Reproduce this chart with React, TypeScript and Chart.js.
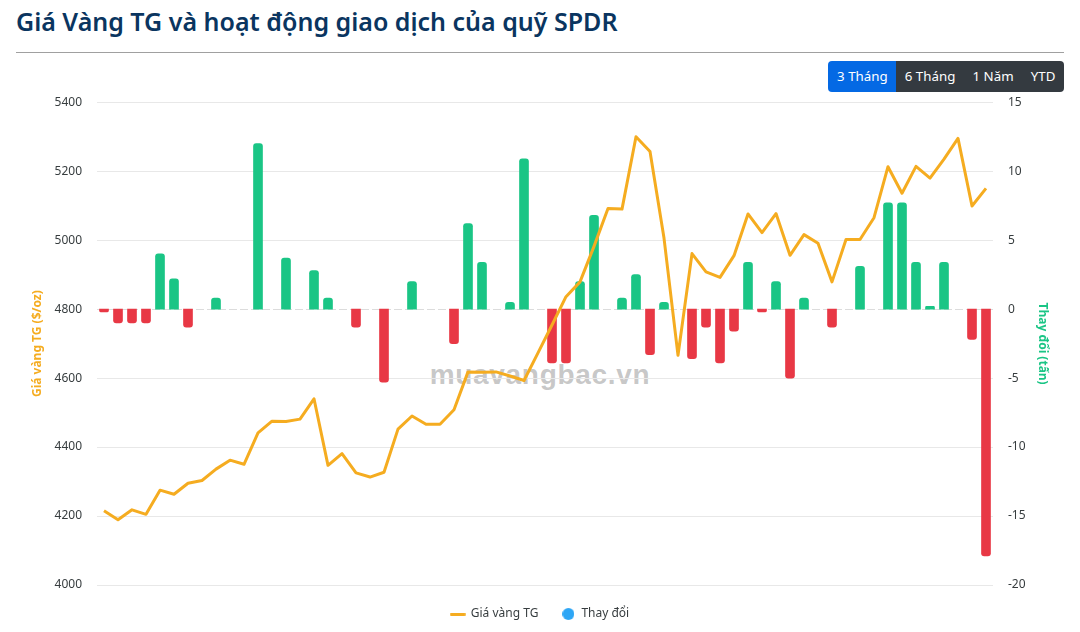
import React, { useEffect, useRef } from "react";
import { Chart, registerables } from "chart.js";

Chart.register(...registerables);

const FONT = '"Noto Sans", "Open Sans", sans-serif';

const goldPrice = [
  4215, 4189, 4218, 4205, 4275, 4263, 4295, 4303, 4336, 4362, 4350, 4441, 4475, 4474, 4481, 4540,
  4347, 4381, 4325, 4313, 4327, 4452, 4490, 4466, 4466, 4508, 4618, 4617, 4618, 4606, 4593, 4673,
  4754, 4836, 4879, 4982, 5092, 5090, 5300, 5257, 5006, 4666, 4961, 4908, 4892, 4955, 5076, 5022,
  5077, 4956, 5016, 4991, 4879, 5002, 5002, 5065, 5213, 5136, 5214, 5180, 5235, 5295, 5099, 5150,
];

const spdrChange = [
  -0.2, -1.0, -1.0, -1.0, 4.0, 2.2, -1.3, 0, 0.8, 0, 0, 12.0, 0, 3.7, 0, 2.8,
  0.8, 0, -1.3, 0, -5.3, 0, 2.0, 0, 0, -2.5, 6.2, 3.4, 0, 0.5, 10.9, 0,
  -3.9, -3.9, 2.0, 6.8, 0, 0.8, 2.5, -3.3, 0.5, 0, -3.6, -1.3, -3.9, -1.6, 3.4, -0.2,
  2.0, -5.0, 0.8, 0, -1.3, 0, 3.1, 0, 7.7, 7.7, 3.4, 0.2, 3.4, 0, -2.2, -17.9,
];

const sessions = goldPrice.map((_, i) => String(i + 1));
const rangeButtons = ["3 Tháng", "6 Tháng", "1 Năm", "YTD"];

const GOLD = "#f5ac20";
const GREEN = "#1ac585";
const RED = "#e83845";
const BLUE = "#2ea6f5";
const GRID = "#e8e8e8";
const TICK = "#373d3f";

function marker(w: number, h: number, draw: (c: CanvasRenderingContext2D) => void) {
  const m = document.createElement("canvas");
  m.width = w;
  m.height = h;
  draw(m.getContext("2d") as CanvasRenderingContext2D);
  return m;
}

const zeroLine = {
  id: "zeroLine",
  beforeDatasetsDraw(chart: any) {
    const { ctx, chartArea, scales } = chart;
    const y = Math.round(scales.yChange.getPixelForValue(0)) + 0.5;
    ctx.save();
    ctx.strokeStyle = "#dcdcdc";
    ctx.lineWidth = 1;
    ctx.setLineDash([8, 3]);
    ctx.beginPath();
    ctx.moveTo(chartArea.left, y);
    ctx.lineTo(chartArea.right, y);
    ctx.stroke();
    ctx.restore();
  },
};

export default function App() {
  const ref = useRef<HTMLCanvasElement>(null);

  useEffect(() => {
    const lineMark = marker(16, 3, (c) => {
      c.fillStyle = GOLD;
      c.beginPath();
      c.roundRect(0, 0, 16, 3, 1.5);
      c.fill();
    });
    const dotMark = marker(12, 12, (c) => {
      c.fillStyle = BLUE;
      c.beginPath();
      c.arc(6, 6, 6, 0, Math.PI * 2);
      c.fill();
    });
    const chart = new Chart(ref.current as HTMLCanvasElement, {
      type: "bar",
      plugins: [zeroLine],
      data: {
        labels: sessions,
        datasets: [
          {
            type: "line",
            label: "Giá vàng TG",
            data: goldPrice,
            yAxisID: "yPrice",
            borderColor: GOLD,
            backgroundColor: GOLD,
            borderWidth: 3,
            pointRadius: 0,
            tension: 0,
            order: 0,
            borderJoinStyle: "round",
          },
          {
            type: "bar",
            label: "Thay đổi",
            data: spdrChange.map((v) => (v === 0 ? null : v)),
            yAxisID: "yChange",
            barThickness: 9,
            borderRadius: 3,
            backgroundColor: spdrChange.map((v) => (v >= 0 ? GREEN : RED)),
            order: 1,
          },
        ],
      } as any,
      options: {
        animation: false,
        responsive: false,
        layout: { padding: { top: 10, bottom: 0, left: 0, right: 0 } },
        plugins: {
          tooltip: { enabled: false },
          legend: {
            position: "bottom",
            labels: {
              usePointStyle: true,
              pointStyleWidth: 14,
              padding: 23,
              color: TICK,
              font: { family: FONT, size: 12 },
              generateLabels: () => [
                { text: "Giá vàng TG", pointStyle: lineMark, fontColor: TICK, strokeStyle: GOLD, fillStyle: GOLD, lineWidth: 0, datasetIndex: 0 },
                { text: "Thay đổi", pointStyle: dotMark, fontColor: TICK, strokeStyle: BLUE, fillStyle: BLUE, lineWidth: 0, datasetIndex: 1 },
              ],
            },
          },
        },
        scales: {
          x: {
            display: false,
            offset: true,
          },
          yPrice: {
            position: "left",
            min: 4000,
            max: 5400,
            afterFit(s: any) {
              s.width = 81;
            },
            grid: {
              drawTicks: false,
              color: (c: any) => (c.tick.value === 4800 ? "transparent" : GRID),
            },
            border: { display: false },
            ticks: {
              stepSize: 200,
              padding: 15,
              color: TICK,
              font: { family: FONT, size: 12 },
              callback: (v: any) => String(v),
            },
            title: {
              display: true,
              text: "Giá vàng TG ($/oz)",
              color: GOLD,
              padding: { top: 14, bottom: 0 },
              font: { family: FONT, size: 12, weight: "bold" },
            },
          },
          yChange: {
            position: "right",
            min: -20,
            max: 15,
            afterFit(s: any) {
              s.width = 71;
            },
            grid: { display: false, drawTicks: false },
            border: { display: false },
            ticks: {
              stepSize: 5,
              padding: 15,
              color: TICK,
              font: { family: FONT, size: 12 },
              callback: (v: any) => String(v),
            },
            title: {
              display: true,
              text: "Thay đổi (tấn)",
              color: GREEN,
              padding: { top: 14, bottom: 0 },
              font: { family: FONT, size: 12, weight: "bold" },
            },
          },
        },
      } as any,
    });
    return () => chart.destroy();
  }, []);

  return (
    <div style={{ position: "fixed", inset: 0, background: "#fff", overflow: "hidden", fontFamily: FONT }}>
      <div
        style={{
          position: "absolute",
          left: 16,
          top: 5,
          fontSize: 25,
          lineHeight: "33px",
          fontWeight: 600,
          color: "#0a3560",
          whiteSpace: "nowrap",
        }}
      >
        Giá Vàng TG và hoạt động giao dịch của quỹ SPDR
      </div>
      <div style={{ position: "absolute", left: 16, width: 1048, top: 52, height: 1, background: "#a0a0a0" }} />
      <div style={{ position: "absolute", right: 16, top: 61, height: 31, display: "flex", borderRadius: 4, overflow: "hidden" }}>
        {rangeButtons.map((b, i) => (
          <div
            key={b}
            style={{
              background: i === 0 ? "#0469e4" : "#343a40",
              color: "#fff",
              fontSize: 13.3,
              lineHeight: "31px",
              padding: "0 8.6px",
              whiteSpace: "nowrap",
            }}
          >
            {b}
          </div>
        ))}
      </div>
      <div
        style={{
          position: "absolute",
          left: 340,
          width: 400,
          top: 358,
          textAlign: "center",
          fontFamily: '"Liberation Sans", Arial, sans-serif',
          fontWeight: 700,
          fontSize: 28,
          letterSpacing: 0.7,
          lineHeight: "34px",
          color: "rgba(120,120,120,0.42)",
        }}
      >
        muavangbac.vn
      </div>
      <canvas ref={ref} width={1048} height={550} style={{ position: "absolute", left: 16, top: 80, display: "block" }} />
    </div>
  );
}
